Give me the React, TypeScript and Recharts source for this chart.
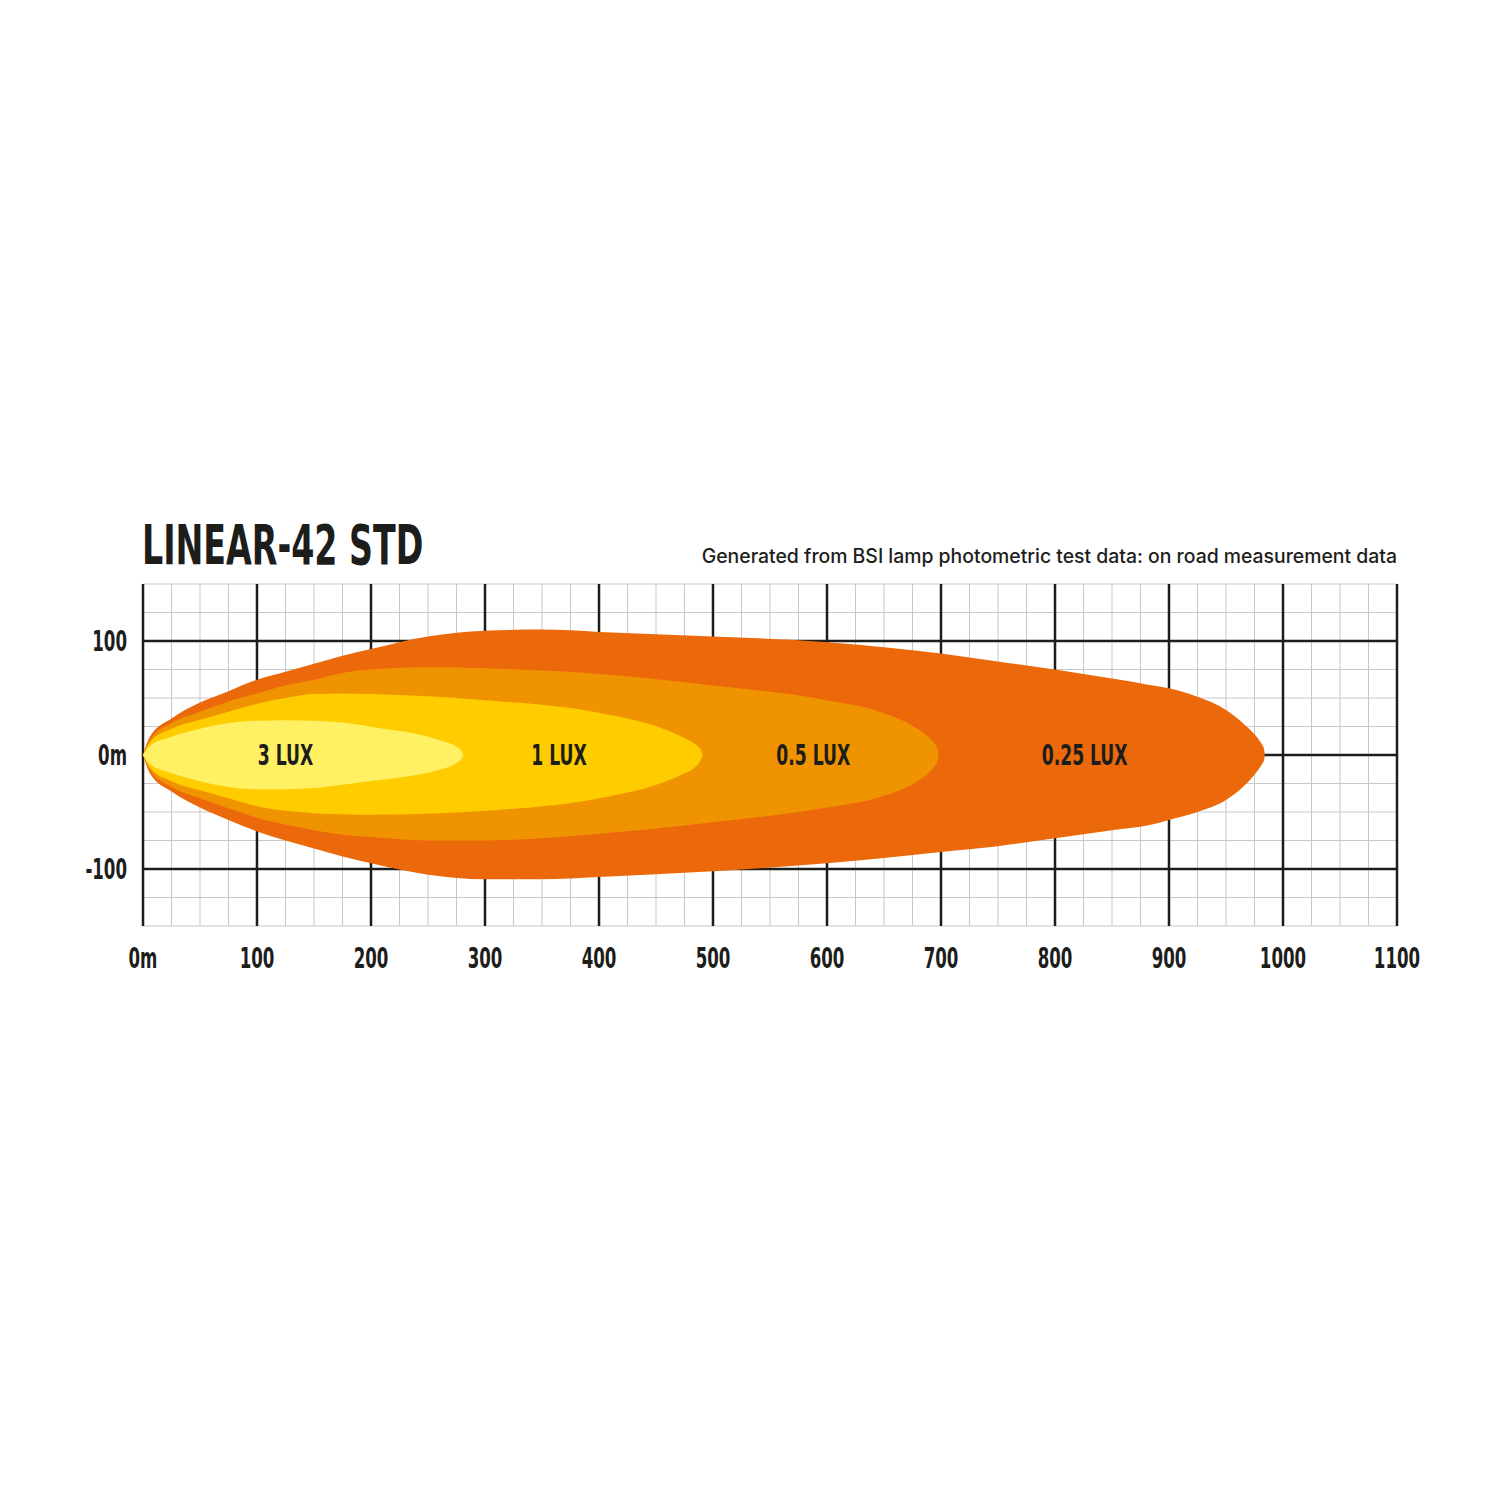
import React from 'react';
import { ComposedChart, Area, Scatter, XAxis, YAxis, CartesianGrid } from 'recharts';

// distancia (m) -> semi-anchura arriba / abajo de cada isolínea
const LUX_025_X = [0, 6, 25, 50, 75, 100, 125, 150, 175, 200, 250, 300, 350, 400, 500, 600, 700, 750, 800, 850, 883, 900, 925, 950, 968, 976, 980, 982, 983.5, 984];
const LUX_025_TOP = [0, 16, 32, 46, 56, 66, 73, 80, 87, 93, 104, 109, 110, 108, 104, 99, 89, 82, 75, 67, 61.5, 58.5, 51, 39.5, 25, 17, 11.7, 8.5, 4.5, 0];
const LUX_025_BOTTOM = [0, -16, -32, -46, -57, -67, -75, -82, -89, -95, -105, -109, -109, -107, -102, -95, -85, -80, -73, -66, -61.5, -57, -50, -39.5, -25, -16, -10.5, -7.5, -4, 0];

const LUX_05_X = [0, 6, 25, 50, 75, 100, 125, 150, 175, 200, 250, 300, 400, 500, 600, 646, 676, 690, 695, 697, 698];
const LUX_05_TOP = [0, 13, 28, 38, 47, 54, 61, 66, 72, 75, 77, 76, 71, 61, 48, 38, 25, 15, 9, 5, 0];
const LUX_05_BOTTOM = [0, -13, -28, -38, -47, -55, -61, -66, -70, -72, -75, -75, -69, -59, -46, -37, -25, -15, -9, -5, 0];

const LUX_1_X = [0, 6, 25, 50, 75, 100, 125, 150, 175, 200, 300, 400, 459, 475, 485, 489, 491];
const LUX_1_TOP = [0, 11, 23, 31, 38, 45, 50, 53.5, 54, 53.5, 48, 37, 22, 15, 9, 5, 0];
const LUX_1_BOTTOM = [0, -11, -23, -31, -38, -45, -49, -51, -52, -52.5, -49, -38, -23, -16, -10, -5, 0];

const LUX_3_X = [0, 6, 25, 50, 75, 100, 125, 150, 175, 208, 237, 260, 275, 279, 281];
const LUX_3_TOP = [0, 8, 16, 23, 28, 30, 30.5, 30, 28.5, 23.5, 19, 13, 7.3, 4, 0];
const LUX_3_BOTTOM = [0, -8, -16, -23, -28, -30, -30, -29, -26, -22, -18, -13, -7, -4, 0];

const LABEL_X = [125, 365, 588, 826];
const LABEL_TEXT = ['3 LUX', '1 LUX', '0.5 LUX', '0.25 LUX'];

const X_TICKS = [0, 100, 200, 300, 400, 500, 600, 700, 800, 900, 1000, 1100];
const X_TICK_LABELS = ['0m', '100', '200', '300', '400', '500', '600', '700', '800', '900', '1000', '1100'];
const Y_TICKS = [100, 0, -100];
const Y_TICK_LABELS = ['100', '0m', '-100'];

const CONTOURS = [
  { key: 'lux025', xs: LUX_025_X, top: LUX_025_TOP, bottom: LUX_025_BOTTOM, color: '#EB690B' },
  { key: 'lux05', xs: LUX_05_X, top: LUX_05_TOP, bottom: LUX_05_BOTTOM, color: '#F09300' },
  { key: 'lux1', xs: LUX_1_X, top: LUX_1_TOP, bottom: LUX_1_BOTTOM, color: '#FFCC00' },
  { key: 'lux3', xs: LUX_3_X, top: LUX_3_TOP, bottom: LUX_3_BOTTOM, color: '#FFF064' },
];

// tabla común: cada fila una distancia, [abajo, arriba] o hueco
const allX = Array.from(new Set(CONTOURS.flatMap((c) => c.xs))).sort((a, b) => a - b);
const tableData = allX.map((x) => {
  const row: any = { x };
  CONTOURS.forEach((c) => {
    const i = c.xs.indexOf(x);
    row[c.key] = i >= 0 ? [c.bottom[i], c.top[i]] : [null, null];
  });
  return row;
});

const labelData = LABEL_X.map((x, i) => ({ x, y: 0, text: LABEL_TEXT[i] }));

// rejilla fina cada 25 m
const MINOR_X: number[] = [];
for (let v = 0; v <= 1100; v += 25) MINOR_X.push(v);
const MINOR_Y: number[] = [];
for (let v = -150; v <= 150; v += 25) MINOR_Y.push(v);

const INK = '#1d1d1b';
const NARROW = "'DejaVu Sans Condensed', sans-serif";
const SQUEEZE = 0.66;

const XTick = (props: any) => {
  const { x, y, payload } = props;
  const label = X_TICK_LABELS[X_TICKS.indexOf(payload.value)];
  return (
    <text transform={`translate(${x},${y + 42}) scale(${SQUEEZE},1)`} textAnchor="middle" fontFamily={NARROW} fontWeight={700} fontSize={28} fill={INK}>
      {label}
    </text>
  );
};

const YTick = (props: any) => {
  const { x, y, payload } = props;
  const label = Y_TICK_LABELS[Y_TICKS.indexOf(payload.value)];
  return (
    <text transform={`translate(${x},${y + 10}) scale(${SQUEEZE},1)`} textAnchor="end" fontFamily={NARROW} fontWeight={700} fontSize={28} fill={INK}>
      {label}
    </text>
  );
};

const LuxLabel = (props: any) => {
  const { cx, cy, payload } = props;
  return (
    <text transform={`translate(${cx},${cy + 10}) scale(${SQUEEZE},1)`} textAnchor="middle" fontFamily={NARROW} fontWeight={700} fontSize={29} fill={INK}>
      {payload.text}
    </text>
  );
};

export default function App() {
  return (
    <div style={{ position: 'absolute', left: 0, top: 0, width: 1500, height: 1500, background: '#fff' }}>
      <ComposedChart
        width={1500}
        height={1500}
        data={tableData}
        margin={{ top: 584, right: 103, bottom: 514, left: 83 }}
      >
        <CartesianGrid stroke="#c8c8c8" strokeWidth={1} verticalValues={MINOR_X} horizontalValues={MINOR_Y} />
        <CartesianGrid stroke={INK} strokeWidth={2.5} verticalValues={X_TICKS} horizontalValues={Y_TICKS} />
        <XAxis
          type="number"
          dataKey="x"
          domain={[0, 1100]}
          ticks={X_TICKS}
          interval={0}
          height={60}
          axisLine={false}
          tickLine={false}
          tickSize={0}
          tickMargin={0}
          tick={<XTick />}
          allowDataOverflow
        />
        <YAxis
          type="number"
          domain={[-150, 150]}
          ticks={Y_TICKS}
          interval={0}
          width={60}
          axisLine={false}
          tickLine={false}
          tickSize={0}
          tickMargin={16}
          tick={<YTick />}
          allowDataOverflow
        />
        {CONTOURS.map((c) => (
          <Area
            key={c.key}
            dataKey={c.key}
            type="monotone"
            stroke="none"
            fill={c.color}
            fillOpacity={1}
            connectNulls
            dot={false}
            activeDot={false}
            isAnimationActive={false}
          />
        ))}
        <Scatter data={labelData} dataKey="y" shape={<LuxLabel />} isAnimationActive={false} />
      </ComposedChart>
      <svg width={1500} height={600} style={{ position: 'absolute', left: 0, top: 0, pointerEvents: 'none' }}>
        <text transform={`translate(142,564) scale(${SQUEEZE},1)`} fontFamily={NARROW} fontWeight={700} fontSize={56} fill={INK}>
          LINEAR-42 STD
        </text>
        <text x={1397} y={563} textAnchor="end" fontFamily="Inter, 'Noto Sans', sans-serif" fontWeight={500} fontSize={19.4} fill={INK}>
          Generated from BSI lamp photometric test data: on road measurement data
        </text>
      </svg>
    </div>
  );
}
